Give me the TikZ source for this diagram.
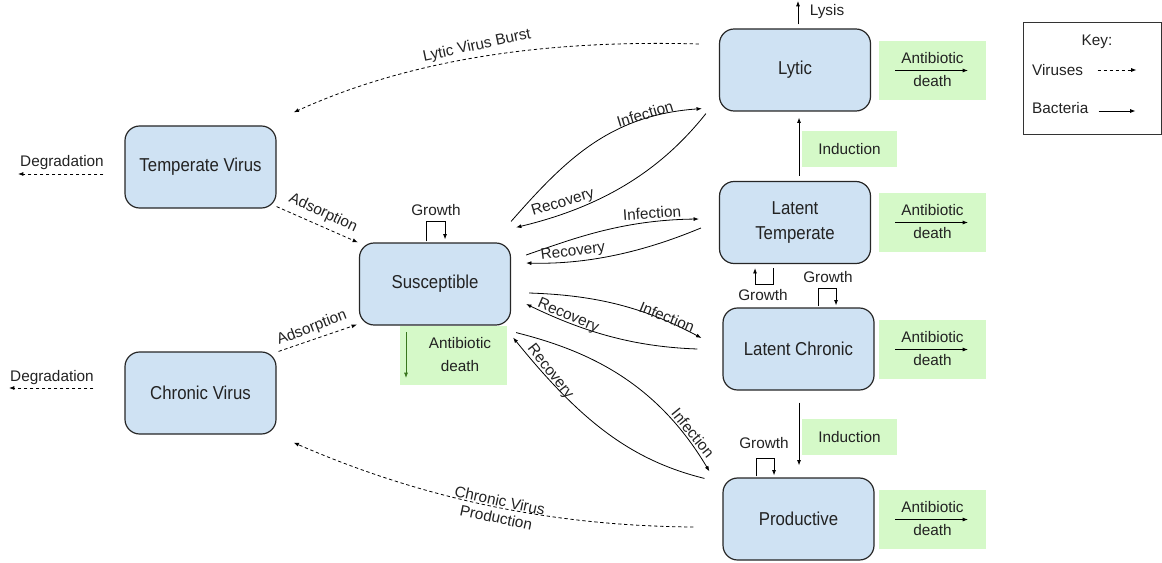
\documentclass[tikz,border=0pt]{standalone}
\usepackage{fontspec}
\setmainfont{Liberation Sans}
\newfontfamily\boxfont[FakeStretch=0.9]{Liberation Sans}
\usetikzlibrary{arrows.meta}
\definecolor{boxblue}{RGB}{207,226,243}
\definecolor{boxgreen}{RGB}{213,249,200}
\definecolor{darkgreen}{RGB}{56,118,29}
\definecolor{txt}{RGB}{34,34,34}
\begin{document}
\begin{tikzpicture}[x=0.75pt,y=-0.75pt,
  font=\fontsize{11.5}{13}\selectfont, text=txt,
  cell/.style={draw=black!85, line width=0.9pt, fill=boxblue, rounded corners=11pt,
    minimum width=113.25pt, minimum height=61.5pt, inner sep=2pt,
    font=\boxfont\fontsize{14}{18.75}\selectfont, align=center},
  gbox/.style={fill=boxgreen, minimum width=80.25pt, minimum height=44.25pt, inner sep=0pt},
  ibox/.style={fill=boxgreen, minimum width=71.25pt, minimum height=27pt, inner sep=0pt},
  lbl/.style={inner sep=1pt},
  arr/.style={-{Latex[length=4pt,width=3pt]}, line width=0.6pt},
  varr/.style={arr, dash pattern=on 2.5pt off 2pt}]
\path[use as bounding box] (0,0) rectangle (1162,563);

% main states
\node[cell] (tv) at (200.5,167) {Temperate Virus};
\node[cell] (cv) at (200.5,393) {Chronic Virus};
\node[cell] (sus) at (435,284) {Susceptible};
\node[cell] (ly) at (795,70) {Lytic};
\node[cell] (lt) at (795,222.5) {Latent\\Temperate};
\node[cell] (lc) at (798.5,349) {Latent Chronic};
\node[cell] (pr) at (798.5,519) {Productive};

% antibiotic death boxes (right)
\foreach \n/\y in {ad1/70.5, ad2/222.5, ad3/349.5, ad4/519.5}{
  \node[gbox] (\n) at (932.5,\y) {};
  \node[lbl] at ([shift={(0,-12.5)}]\n.center) {Antibiotic};
  \node[lbl] at ([shift={(0,10.5)}]\n.center) {death};
  \draw[arr] ([shift={(-37.5,0)}]\n.center) -- ([shift={(35.5,0)}]\n.center);
}
% antibiotic death (susceptible)
\node[gbox] (sad) at (453.5,355.5) {};
\node[lbl] at (460,343) {Antibiotic};
\node[lbl] at (460,366) {death};
\draw[arr, draw=darkgreen] ([shift={(-47.5,-23.5)}]sad.center) -- ([shift={(-47.5,22.5)}]sad.center);

% induction
\node[ibox] (ind1) at (849.5,149) {Induction};
\node[ibox] (ind2) at (849.5,437) {Induction};
\draw[arr] ([shift={(4,-5)}]lt.north) -- ([shift={(4,6)}]ly.south);
\draw[arr] ([shift={(0.5,12)}]lc.south) -- ([shift={(0.5,-12)}]pr.north);

% lysis
\coordinate (lysisend) at (798,1);
\draw[arr] ([shift={(3,-4)}]ly.north) -- (lysisend);
\node[lbl] at (827,12) {Lysis};

% virus flows
\draw[varr] ([shift={(-20,-26)}]ly.west) .. controls (560,40) and (420,55) .. ([shift={(17,-13)}]tv.north east);
\node[lbl, rotate=12] at (477,46) {Lytic Virus Burst};
\draw[varr] ([shift={(-29,8)}]pr.west) .. controls (560,526) and (430,502) .. ([shift={(17,8)}]cv.south east);
\node[lbl, rotate=-12, align=center] at (498,509) {Chronic Virus\\Production};

\draw[varr] ([shift={(0,-2)}]tv.south east) -- ([shift={(-1,0)}]sus.north west);
\node[lbl, rotate=-25] at (323,213) {Adsorption};
\draw[varr] ([shift={(2,0)}]cv.north east) -- ([shift={(-2,-1)}]sus.south west);
\node[lbl, rotate=21] at (312,328) {Adsorption};

\coordinate (deg1) at (18,174);
\coordinate (deg2) at (9,388);
\draw[varr] ([shift={(-21,7)}]tv.west) -- (deg1);
\node[lbl] at (62,163) {Degradation};
\draw[varr] ([shift={(-31,-5)}]cv.west) -- (deg2);
\node[lbl] at (52,378) {Degradation};

% growth loops
\draw[arr] ([shift={(-9,-1)}]sus.north) -- ++(0,-20) -- ++(19,0) -- ([shift={(10,-3)}]sus.north);
\node[lbl] at (436,210) {Growth};
\draw[arr] ([shift={(-22,4)}]lt.south) -- ++(0,16) -- ++(-18,0) -- ([shift={(-40,4)}]lt.south);
\node[lbl] at (763,295) {Growth};
\draw[arr] ([shift={(19.5,-1)}]lc.north) -- ++(0,-18) -- ++(18,0) -- ([shift={(37.5,-2)}]lc.north);
\node[lbl] at (828,277) {Growth};
\draw[arr] ([shift={(-42.5,-1)}]pr.north) -- ++(0,-18) -- ++(18,0) -- ([shift={(-24.5,-2)}]pr.north);
\node[lbl] at (764,443) {Growth};

% infections / recoveries
\draw[arr] ([shift={(0,-21)}]sus.north east) .. controls (565,160) and (610,115) .. ([shift={(-17,-3)}]ly.south west);
\node[lbl, rotate=17] at (645,114) {Infection};
\draw[arr] ([shift={(-13,2)}]ly.south west) .. controls (665,165) and (610,205) .. ([shift={(5,-15)}]sus.north east);
\node[lbl, rotate=17] at (563,203) {Recovery};

\draw[arr] ([shift={(15,-29)}]sus.east) .. controls (570,240) and (620,220) .. ([shift={(-20,-3.5)}]lt.west);
\node[lbl, rotate=4] at (652,213) {Infection};
\draw[arr] ([shift={(-18,5.5)}]lt.west) .. controls (660,245) and (600,265) .. ([shift={(15,-21)}]sus.east);
\node[lbl, rotate=7] at (573,252) {Recovery};

\draw[arr] ([shift={(18,9)}]sus.east) .. controls (590,295) and (640,305) .. ([shift={(-21,-11)}]lc.west);
\node[lbl, rotate=-22] at (667,317) {Infection};
\draw[arr] ([shift={(-25,0)}]lc.west) .. controls (640,347) and (590,335) .. ([shift={(15,20)}]sus.east);
\node[lbl, rotate=-23] at (568,316) {Recovery};

\draw[arr] ([shift={(5,7)}]sus.south east) .. controls (585,350) and (655,380) .. ([shift={(-13,-6)}]pr.north west);
\node[lbl, rotate=-51] at (693,433) {Infection};
\draw[arr] ([shift={(-18,1)}]pr.north west) .. controls (630,460) and (580,420) .. ([shift={(2,12)}]sus.south east);
\node[lbl, rotate=-52] at (550,372) {Recovery};

% key
\node[draw=black!80, line width=0.7pt, minimum width=103.9pt, minimum height=84pt, inner sep=0pt] (key) at (1092.25,78) {};
\node[lbl] at ([shift={(4.75,-36)}]key.center) {Key:};
\node[lbl, anchor=west] at ([shift={(8,-8)}]key.west) {Viruses};
\draw[varr] ([shift={(75,-8)}]key.west) -- ([shift={(114,-8)}]key.west);
\node[lbl, anchor=west] at ([shift={(8,30)}]key.west) {Bacteria};
\draw[arr] ([shift={(76,33)}]key.west) -- ([shift={(113,33)}]key.west);
\end{tikzpicture}
\end{document}
